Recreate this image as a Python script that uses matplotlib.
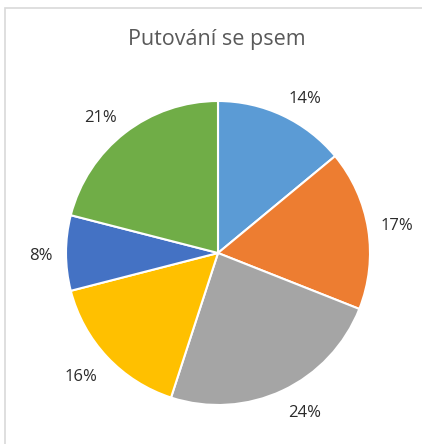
import numpy as np
import matplotlib.pyplot as plt
from matplotlib.patches import Rectangle

title = "Putování se psem"
labels = ["14%", "17%", "24%", "16%", "8%", "21%"]
values = [14, 17, 24, 16, 8, 21]
colors = ["#5B9BD5", "#ED7D31", "#A5A5A5", "#FFC000", "#4472C4", "#70AD47"]

W, H = 422, 444
fig = plt.figure(figsize=(W / 100, H / 100), dpi=100)
fig.patch.set_facecolor("white")

# chart frame (cut at right/bottom like the screenshot)
fig.patches.append(Rectangle((5 / W, -0.1), 1.2, (H - 8) / H + 0.1,
                             transform=fig.transFigure, fill=False,
                             edgecolor="#D9D9D9", linewidth=1.2))

cx, cy, r = 218, H - 253, 152
ax = fig.add_axes([(cx - r) / W, (cy - r) / H, 2 * r / W, 2 * r / H])
wedges, texts = ax.pie(
    values,
    labels=labels,
    colors=colors,
    startangle=90,
    counterclock=False,
    labeldistance=1.2,
    wedgeprops={"edgecolor": "white", "linewidth": 1.5},
    textprops={"fontsize": 12, "color": "#2B2B2B", "family": "Open Sans"},
)
ax.set_xlim(-1, 1)
ax.set_ylim(-1, 1)
ax.set_aspect("equal")
ax.axis("off")

# excel-like "outside end": the label box corner sits just outside the rim
renderer = fig.canvas.get_renderer()
gap = 13  # px
for w, t in zip(wedges, texts):
    t.set_ha("center")
    t.set_va("center")
    ang = np.deg2rad((w.theta1 + w.theta2) / 2)
    c, s = np.cos(ang), np.sin(ang)
    bb = t.get_window_extent(renderer)
    hw, hh = bb.width / 2, bb.height / 2
    px0, py0 = ax.transData.transform((0, 0))
    rpx = ax.transData.transform((1, 0))[0] - px0
    px = px0 + (rpx + gap) * c + hw * np.clip(c * 3, -1, 1)
    py = py0 + (rpx + gap) * s + hh * np.clip(s * 3, -1, 1) - 3
    t.set_position(ax.transData.inverted().transform((px, py)))

fig.text(217 / W, 1 - 40 / H, title, ha="center", va="center",
         fontsize=15.5, color="#595959", family="Open Sans")

fig.savefig("out.png", dpi=100)
